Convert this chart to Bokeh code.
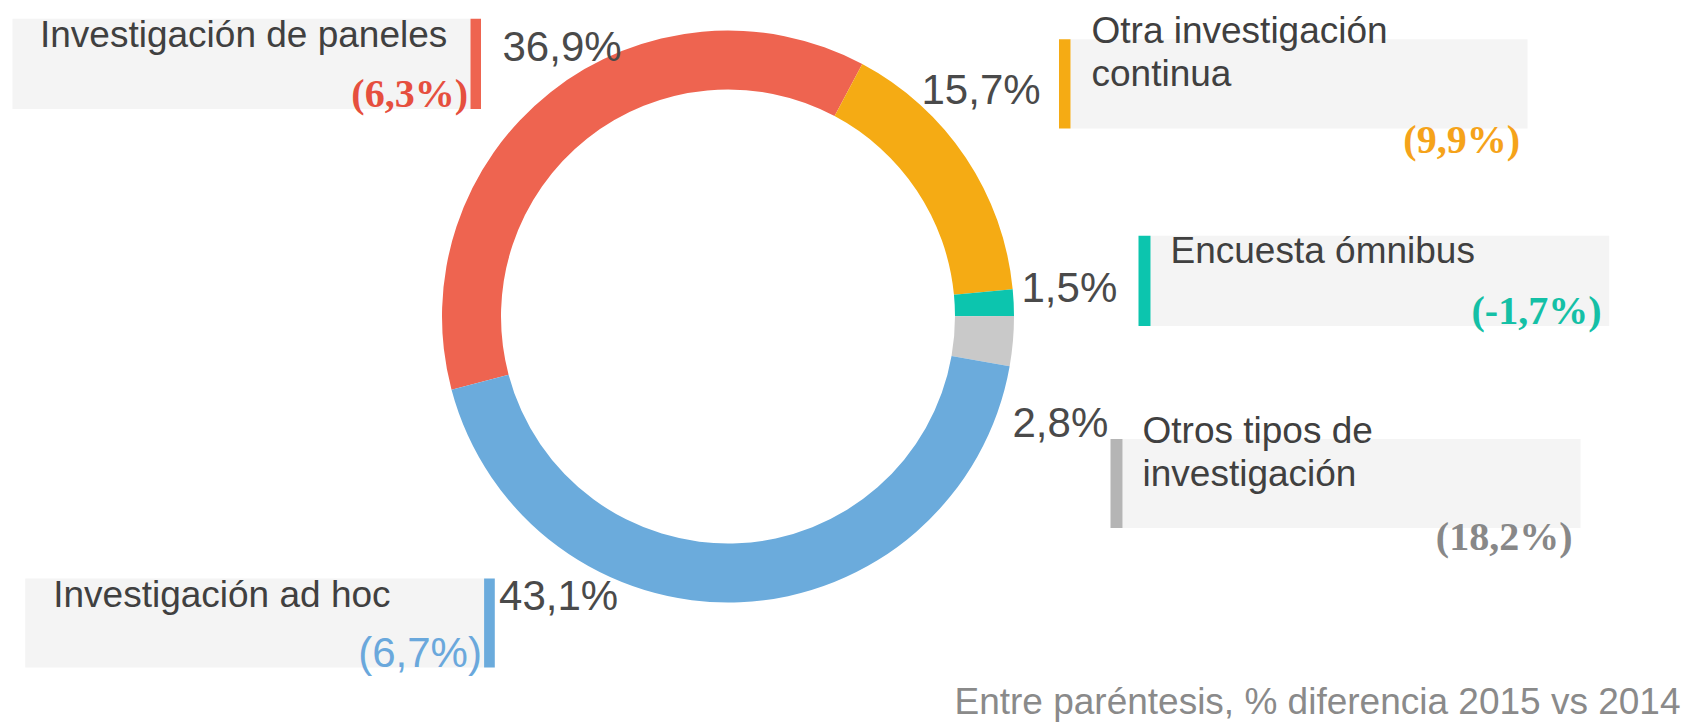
import numpy as np
from bokeh.plotting import figure
from bokeh.models import Range1d, ColumnDataSource
from bokeh.core.properties import value
from bokeh.embed import file_html
from bokeh.resources import INLINE

# ---------------- data ----------------
categories = ["Investigación de paneles", "Otra investigación\ncontinua", "Encuesta ómnibus",
              "Otros tipos de\ninvestigación", "Investigación ad hoc"]
shares = [36.9, 15.7, 1.5, 2.8, 43.1]
changes = [6.3, 9.9, -1.7, 18.2, 6.7]
footnote = "Entre paréntesis, % diferencia 2015 vs 2014"

slice_colors = ["#ee6450", "#f5ab14", "#0cc5ae", "#c9c9c9", "#6babdc"]
bar_colors = ["#ee6450", "#f5ab14", "#0cc5ae", "#b5b5b5", "#6babdc"]
change_colors = ["#e64f3e", "#f5a31a", "#14c0a6", "#888888", "#6aa8dc"]

def fmt(v):
    return f"{v:.1f}%".replace(".", ",")

share_labels = [fmt(v) for v in shares]
change_labels = ["(" + fmt(v) + ")" for v in changes]

# ---------------- layout (page pixels) ----------------
W, H = 1685, 722
CX, CY, R_OUT, R_IN = 727.5, 316, 286, 227
START_DEG = 194.84  # where the first slice starts (clockwise)

bg_left = [12, 1070, 1150, 1122, 24.7]
bg_right = [470, 1527, 1608.7, 1580, 483.6]
bg_top = [18.3, 38.7, 235.3, 438.4, 578]
bg_bottom = [108.5, 128, 325.6, 527.6, 667]
bar_left = [470, 1058.5, 1138, 1110, 483.6]
bar_right = [480.5, 1070, 1150, 1122, 494.3]
label_x = [39.5, 1091, 1170, 1142, 52.7]
label_y = [47, 43, 263, 442.7, 607]
line_h = 43
chg_x = [467.5, 1519.5, 1601, 1572, 481.4]
chg_y = [107, 153, 324, 550, 666]
pct_x = [502, 921, 1021, 1012, 498.6]
pct_y = [60, 103, 301, 436, 609]

LBL_FS, PCT_FS, CHG_FS, FOOT_FS = 37, 42, 40, 37
SHIFT = 0.34  # baseline correction as a fraction of font size

def up(ys, fs):
    return [y - SHIFT * fs for y in ys]

p = figure(width=W, height=H, output_backend="svg", toolbar_location=None,
           x_range=Range1d(0, W), y_range=Range1d(H, 0),
           min_border=0, outline_line_color=None)
p.axis.visible = False
p.grid.visible = False
p.background_fill_color = "white"
p.border_fill_color = "white"

# donut
ang = np.radians(shares) * 3.6
ends = np.radians(START_DEG) - np.cumsum(ang)
starts = ends + ang
src = ColumnDataSource(dict(start=starts, end=ends, color=slice_colors))
p.annular_wedge(x=CX, y=CY, inner_radius=R_IN, outer_radius=R_OUT,
                start_angle="start", end_angle="end", direction="clock",
                fill_color="color", line_color=None, source=src)

# label boxes
p.quad(left=bg_left, right=bg_right, top=bg_top, bottom=bg_bottom,
       fill_color="#f4f4f4", line_color=None)
p.quad(left=bar_left, right=bar_right, top=bg_top, bottom=bg_bottom,
       fill_color=bar_colors, line_color=None)

# category labels (split on line breaks)
lx, ly, lt = [], [], []
for i, c in enumerate(categories):
    for j, line in enumerate(c.split("\n")):
        lx.append(label_x[i]); ly.append(label_y[i] + j * line_h); lt.append(line)
p.text(x=lx, y=up(ly, LBL_FS), text=lt, text_font=value("Liberation Sans"),
       text_font_size=f"{LBL_FS}px", text_color="#404040",
       text_baseline="alphabetic", text_align="left")

# share labels
p.text(x=pct_x, y=up(pct_y, PCT_FS), text=share_labels, text_font=value("Liberation Sans"),
       text_font_size=f"{PCT_FS}px", text_color="#4a4a4a",
       text_baseline="alphabetic", text_align="left")

# change labels: bold serif for first four, sans for the last
p.text(x=chg_x[:4], y=up(chg_y[:4], CHG_FS), text=change_labels[:4], text_color=change_colors[:4],
       text_font=value("Liberation Serif"), text_font_size=f"{CHG_FS}px", text_font_style="bold",
       text_baseline="alphabetic", text_align="right")
p.text(x=chg_x[4:], y=up(chg_y[4:], PCT_FS), text=change_labels[4:], text_color=change_colors[4:],
       text_font=value("Liberation Sans"), text_font_size=f"{PCT_FS}px",
       text_baseline="alphabetic", text_align="right")

# footnote
p.text(x=[1680], y=up([714], FOOT_FS), text=[footnote], text_font=value("Liberation Sans"),
       text_font_size=f"{FOOT_FS}px", text_color="#8a8a8a",
       text_baseline="alphabetic", text_align="right")

open("out.html", "w").write(file_html(p, INLINE))
